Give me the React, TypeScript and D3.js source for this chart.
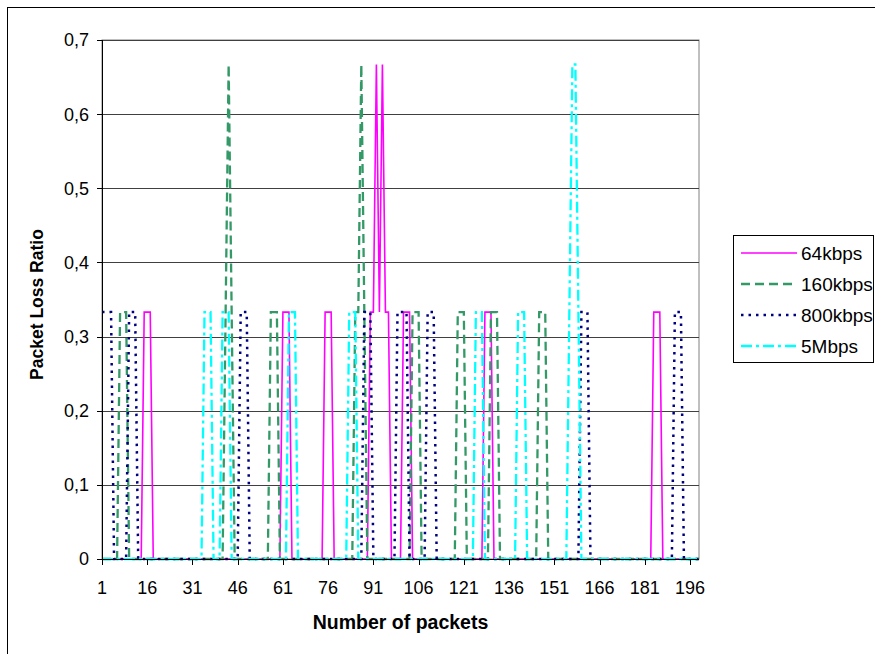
import React from "react";
import * as d3 from "d3";

// ---- data (packet index -> loss ratio; all other packets are 0) ----
const PACKET_COUNT = 199;
const xTickLabels = [1, 16, 31, 46, 61, 76, 91, 106, 121, 136, 151, 166, 181, 196];
const yTicks = [0, 0.1, 0.2, 0.3, 0.4, 0.5, 0.6, 0.7];
const seriesNames = ["64kbps", "160kbps", "800kbps", "5Mbps"];

const loss64kbps: [number, number][] = [
  [15, 0.333], [16, 0.333], [17, 0.333],
  [61, 0.333], [62, 0.333], [63, 0.333],
  [75, 0.333], [76, 0.333], [77, 0.333],
  [90, 0.333], [91, 0.333], [92, 0.667], [93, 0.333], [94, 0.667], [95, 0.333], [96, 0.333],
  [101, 0.333], [102, 0.333], [103, 0.333],
  [128, 0.333], [129, 0.333], [130, 0.333],
  [184, 0.333], [185, 0.333], [186, 0.333],
];
const loss160kbps: [number, number][] = [
  [7, 0.333], [8, 0.333], [9, 0.333],
  [42, 0.333], [43, 0.667], [44, 0.333],
  [57, 0.333], [58, 0.333], [59, 0.333],
  [85, 0.333], [86, 0.333], [87, 0.667], [88, 0.333],
  [104, 0.333], [105, 0.333], [106, 0.333],
  [119, 0.333], [120, 0.333], [121, 0.333],
  [130, 0.333], [131, 0.333], [132, 0.333],
  [146, 0.333], [147, 0.333], [148, 0.333],
];
const loss800kbps: [number, number][] = [
  [1, 0.333], [2, 0.333], [3, 0.333], [4, 0.333],
  [10, 0.333], [11, 0.333], [12, 0.333],
  [47, 0.333], [48, 0.333], [49, 0.333],
  [88, 0.333], [89, 0.333], [90, 0.333],
  [99, 0.333], [100, 0.333], [101, 0.333], [102, 0.333],
  [109, 0.333], [110, 0.333], [111, 0.333],
  [160, 0.333], [161, 0.333], [162, 0.333],
  [191, 0.333], [192, 0.333], [193, 0.333],
];
const loss5Mbps: [number, number][] = [
  [35, 0.333], [36, 0.333], [37, 0.333],
  [41, 0.333], [42, 0.333], [43, 0.333],
  [63, 0.333], [64, 0.333], [65, 0.333],
  [83, 0.333], [84, 0.333], [85, 0.333],
  [125, 0.333], [126, 0.333], [127, 0.333],
  [139, 0.333], [140, 0.333], [141, 0.333],
  [156, 0.333], [157, 0.667], [158, 0.667], [159, 0.333],
];

const packets = d3.range(1, PACKET_COUNT + 1);

function expand(spikes: [number, number][]) {
  const m = new Map(spikes);
  return packets.map((p) => ({ p, v: m.get(p) ?? 0 }));
}

const styles = [
  { color: "#FF00FF", width: 1.6, dash: "none" },
  { color: "#339966", width: 2.3, dash: "9,5" },
  { color: "#000080", width: 2.5, dash: "2.5,5" },
  { color: "#00FFFF", width: 2.3, dash: "11,4,3,4" },
];

const W = 875;
const H = 654;
const L = 102, R = 699, T = 40, B = 559;
const FONT = "Arial, 'Liberation Sans', sans-serif";

export default function App() {
  const x = d3.scalePoint<number>().domain(packets).range([L, R]);
  const y = d3.scaleLinear().domain([0, 0.7]).range([B, T]);
  const line = d3
    .line<{ p: number; v: number }>()
    .x((d) => x(d.p) as number)
    .y((d) => y(d.v));
  const allSeries = [loss64kbps, loss160kbps, loss800kbps, loss5Mbps].map(expand);

  const legendRows = [253, 284, 315, 346];

  return (
    <svg
      width={W}
      height={H}
      style={{ position: "absolute", left: 0, top: 0, background: "#fff" }}
      fontFamily={FONT}
    >
      <rect x={0} y={0} width={W} height={H} fill="#fff" />
      {/* chart border */}
      <rect x={7.5} y={7.5} width={W + 20} height={H + 20} fill="none" stroke="#000" strokeWidth={1} />

      {/* plot area border */}
      <rect x={L} y={T} width={R - L} height={B - T} fill="none" stroke="#808080" strokeWidth={1} />
      {/* gridlines */}
      {yTicks.slice(1).map((t) => (
        <line key={t} x1={L} x2={R} y1={Math.round(y(t)) + 0.5} y2={Math.round(y(t)) + 0.5} stroke="#404040" strokeWidth={1} />
      ))}

      {/* series */}
      {allSeries.map((s, i) => (
        <path
          key={seriesNames[i]}
          d={line(s) || ""}
          fill="none"
          stroke={styles[i].color}
          strokeWidth={styles[i].width}
          strokeDasharray={styles[i].dash}
          strokeLinejoin="miter"
        />
      ))}

      {/* axes */}
      <line x1={L + 0.5} x2={L + 0.5} y1={T} y2={B + 0.5} stroke="#000" />
      <line x1={L} x2={R} y1={B + 0.5} y2={B + 0.5} stroke="#000" />
      {yTicks.map((t) => (
        <g key={t}>
          <line x1={L - 5} x2={L} y1={Math.round(y(t)) + 0.5} y2={Math.round(y(t)) + 0.5} stroke="#000" />
          <text x={89} y={y(t)} dy="0.36em" textAnchor="end" fontSize={18} fill="#000">
            {t === 0 ? "0" : d3.format(".1f")(t).replace(".", ",")}
          </text>
        </g>
      ))}
      {xTickLabels.map((k) => (
        <g key={k}>
          <line x1={Math.round(x(k) as number) + 0.5} x2={Math.round(x(k) as number) + 0.5} y1={B} y2={B + 6} stroke="#000" />
          <text x={x(k) as number} y={594} textAnchor="middle" fontSize={18} fill="#000">
            {k}
          </text>
        </g>
      ))}

      {/* titles */}
      <text x={(L + R) / 2} y={629} textAnchor="middle" fontSize={19.5} fontWeight="bold" fill="#000">
        Number of packets
      </text>
      <text
        transform={`translate(43, ${(T + B) / 2 + 5}) rotate(-90)`}
        textAnchor="middle"
        fontSize={17.5}
        fontWeight="bold"
        fill="#000"
      >
        Packet Loss Ratio
      </text>

      {/* legend */}
      <rect x={733.5} y={235.5} width={140} height={127} fill="#fff" stroke="#000" strokeWidth={1} />
      {seriesNames.map((n, i) => (
        <g key={n}>
          <line
            x1={741}
            x2={797}
            y1={legendRows[i]}
            y2={legendRows[i]}
            stroke={styles[i].color}
            strokeWidth={styles[i].width}
            strokeDasharray={styles[i].dash}
          />
          <text x={801} y={legendRows[i]} dy="0.36em" fontSize={19} fill="#000">
            {n}
          </text>
        </g>
      ))}
    </svg>
  );
}
